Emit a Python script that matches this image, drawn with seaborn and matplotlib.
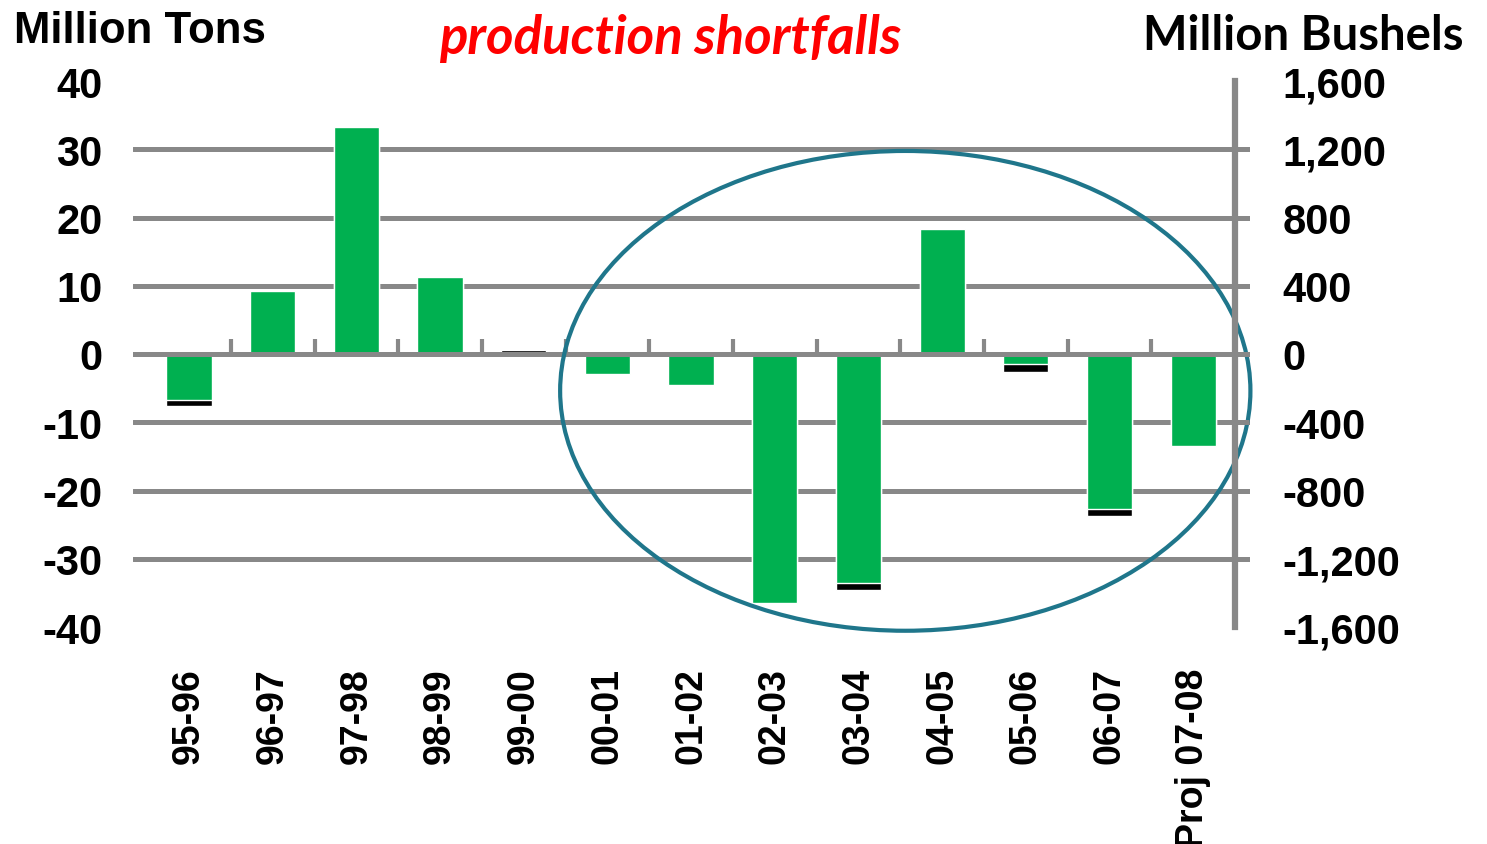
import numpy as np
import pandas as pd
import matplotlib
matplotlib.use("Agg")
import matplotlib.pyplot as plt
from matplotlib.patches import Ellipse
import seaborn as sns

# data (million tons)
seasons = ["95-96", "96-97", "97-98", "98-99", "99-00", "00-01", "01-02",
           "02-03", "03-04", "04-05", "05-06", "06-07", "Proj 07-08"]
green_part = [-6.7, 9.3, 33.2, 11.3, 0.0, -2.9, -4.5, -36.5, -33.5, 18.3, -1.4, -22.7, -13.5]
black_part = [-7.6, 9.3, 33.2, 11.3, 0.6, -2.9, -4.5, -36.5, -34.6, 18.3, -2.6, -23.7, -13.5]

left_ticks = [40, 30, 20, 10, 0, -10, -20, -30, -40]
left_labels = ["40", "30", "20", "10", "0", "-10", "-20", "-30", "-40"]
right_ticks = [1600, 1200, 800, 400, 0, -400, -800, -1200, -1600]
right_labels = ["1,600", "1,200", "800", "400", "0", "-400", "-800", "-1,200", "-1,600"]

sns.set_theme(style="white")
plt.rcParams["font.family"] = ["Liberation Sans", "DejaVu Sans"]
plt.rcParams["text.color"] = "black"
plt.rcParams["xtick.color"] = "black"
plt.rcParams["ytick.color"] = "black"

GRID = "#888888"
GREEN = "#00b050"

df = pd.DataFrame({"season": seasons, "green": green_part, "black": black_part})

fig = plt.figure(figsize=(14.87, 8.45), dpi=100)
ax = fig.add_axes([133 / 1487, 1 - 628 / 845, (1250 - 133) / 1487, (628 - 82) / 845])

# black edge first, green on top
sns.barplot(data=df, x="season", y="black", color="black", saturation=1,
            width=0.54, ax=ax, zorder=2)
sns.barplot(data=df, x="season", y="green", color=GREEN, saturation=1,
            width=0.54, ax=ax, zorder=2)

ax.set_xlim(-0.67, 12.68)
ax.set_ylim(-40, 40)
ax.set_xlabel("")
ax.set_ylabel("")
for s in ax.spines.values():
    s.set_visible(False)

ax.set_yticks(left_ticks)
ax.set_yticklabels(left_labels, fontsize=30, fontweight="bold", color="black")
ax.tick_params(axis="y", length=0, pad=22)
ax.tick_params(axis="x", length=0, pad=29)
ax.set_xticks(range(len(seasons)))
ax.set_xticklabels(seasons, rotation=90, fontsize=27, fontweight="bold",
                   va="top", color="black")

ax.set_axisbelow(True)
ax.yaxis.grid(True, color=GRID, linewidth=3.6)
ax.xaxis.grid(False)
for t in ax.yaxis.get_major_ticks():
    if abs(t.get_loc()) == 40:
        t.gridline.set_visible(False)

# zero line above bars
ax.axhline(0, color=GRID, linewidth=3.6, zorder=3)

# small separators on the zero line
sec = ax.secondary_xaxis(0.5)
sec.set_xticks(np.arange(len(seasons) - 1) + 0.5)
sec.set_xticklabels([])
sec.tick_params(axis="x", direction="out", length=11, width=3, color=GRID)
for s in sec.spines.values():
    s.set_visible(False)

# right axis in million bushels
ax2 = ax.twinx()
ax2.set_ylim(-1600, 1600)
ax2.set_yticks(right_ticks)
ax2.set_yticklabels(right_labels)
ax2.grid(False)
for s in ["left", "top", "bottom"]:
    ax2.spines[s].set_visible(False)
ax2.spines["right"].set_position(("data", 12.5))
ax2.spines["right"].set_color(GRID)
ax2.spines["right"].set_linewidth(4.5)
ax2.tick_params(axis="y", direction="out", length=10, width=3.6, color=GRID,
                pad=24, right=True, labelsize=30, labelcolor="black")
for lab in ax2.get_yticklabels():
    lab.set_fontweight("bold")
for t in ax2.yaxis.get_major_ticks():
    if abs(t.get_loc()) == 1600:
        t.tick1line.set_visible(False)
        t.tick2line.set_visible(False)

# circle around the recent shortfalls
ell = Ellipse((8.56, -5.4), 8.25, 70.3, fill=False, edgecolor="#1f768b",
              linewidth=3, clip_on=False, zorder=5)
ax.add_patch(ell)

fig.text(0.0094, 0.963, "Million Tons", fontsize=31.5, fontweight="bold",
         ha="left", va="center")
fig.text(0.984, 0.957, "Million Bushels", fontsize=34, fontweight="bold",
         ha="right", va="center", family=["Lato", "DejaVu Sans"])
fig.text(0.4506, 0.955, "production shortfalls", fontsize=38, fontweight="bold",
         style="italic", color="red", ha="center", va="center",
         family=["Lato", "DejaVu Sans"])

fig.savefig("out.png", dpi=100)
